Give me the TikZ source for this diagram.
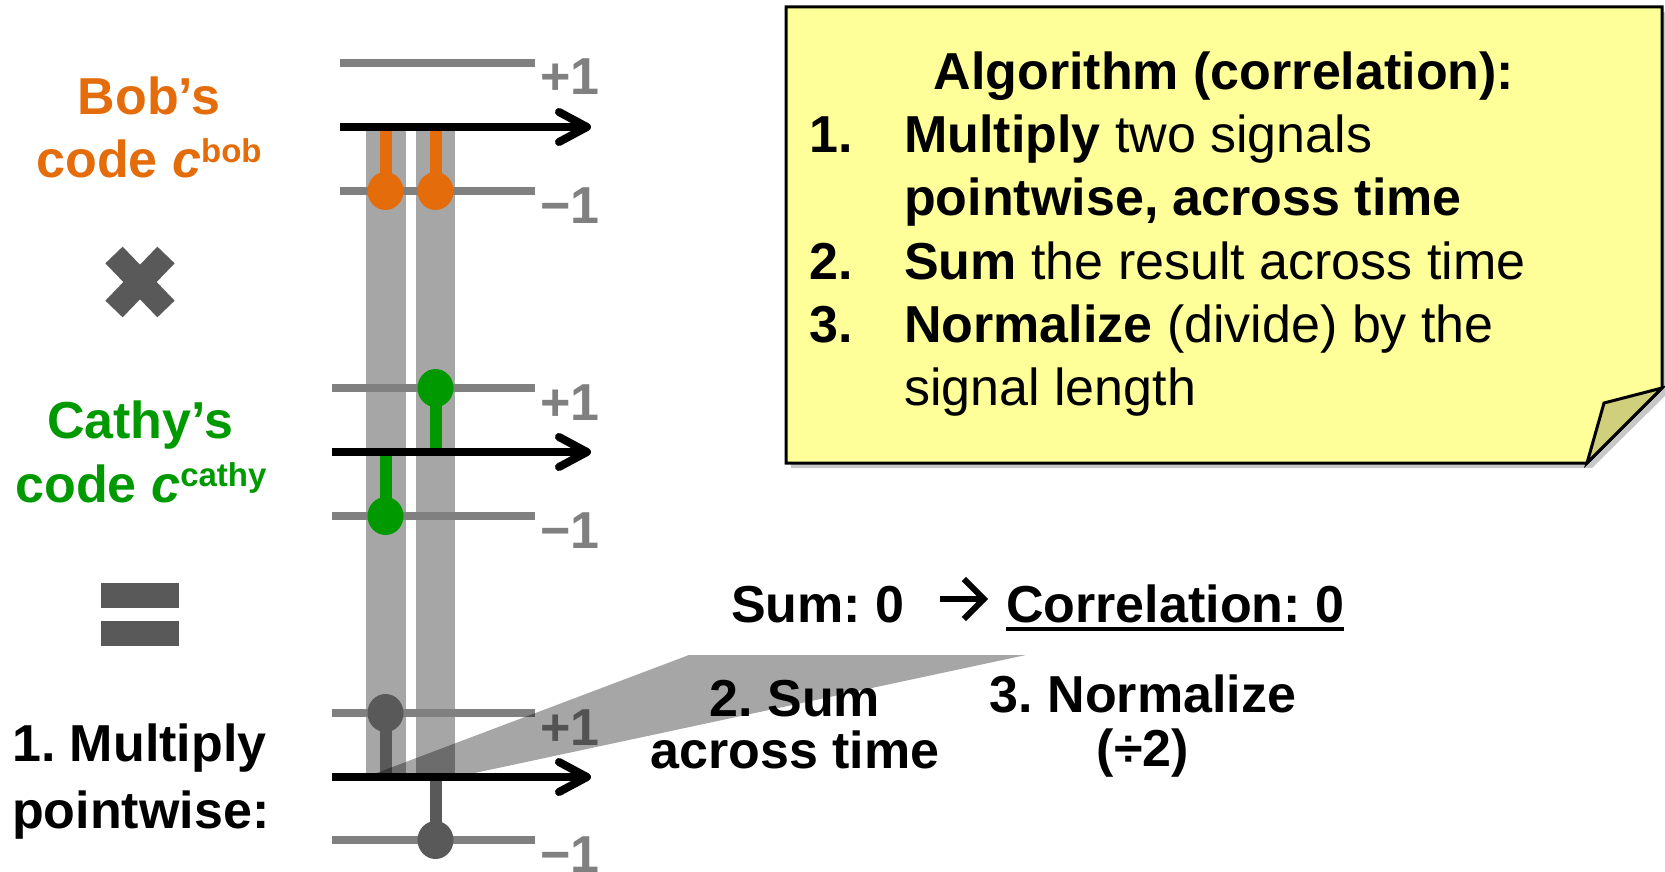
\documentclass[tikz,border=0pt]{standalone}
\usepackage{fontspec}
\setmainfont{Liberation Sans}
\usetikzlibrary{arrows.meta,shapes.geometric}
\definecolor{bobc}{HTML}{E46C0A}
\definecolor{cathyc}{HTML}{009900}
\definecolor{lvl}{HTML}{808080}
\definecolor{dk}{HTML}{595959}
\definecolor{note}{HTML}{FFFF99}
\definecolor{foldc}{HTML}{CFCF7C}
\tikzset{
  big/.style={font=\fontsize{52}{60}\selectfont\bfseries, inner sep=0pt},
  reg/.style={font=\fontsize{52}{60}\selectfont, inner sep=0pt},
  lbl/.style={font=\fontsize{52}{60}\selectfont\bfseries, text=lvl, inner sep=0pt, anchor=base west},
  lvlline/.style={draw=lvl, line width=8pt},
  timeaxis/.style={draw=black, line width=8pt, -{Straight Barb[length=28pt,width=30pt,round]}},
  thenarrow/.style={draw=black, line width=6pt, -{Straight Barb[length=20pt,width=40pt]}},
  stem/.style={line width=12pt},
  dot/.style={ellipse, minimum width=36pt, minimum height=38pt, inner sep=0pt},
  bar/.style={fill=black, fill opacity=0.35},
}
\begin{document}
\frenchspacing
\begin{tikzpicture}[x=1pt,y=-1pt]
\useasboundingbox (0,0) rectangle (1665,872);

% time-slot bars
\fill[bar] (366,127) rectangle (406,777);
\fill[bar] (416,127) rectangle (455,777);

% ---------- Bob ----------
\draw[lvlline] (340,63) -- (535,63);
\draw[lvlline] (340,191) -- (535,191);
\draw[stem, bobc] (385.5,127) -- (385.5,191);
\draw[stem, bobc] (435.5,127) -- (435.5,191);
\node[dot, fill=bobc] (b1) at (385.5,191) {};
\node[dot, fill=bobc] (b2) at (435.5,191) {};
\draw[timeaxis] (340,127) -- (591,127);
\node[lbl] (bp) at (540,95) {+1};
\node[lbl] (bm) at (540,223) {\char"2212 1};

% ---------- Cathy ----------
\draw[lvlline] (332,388) -- (535,388);
\draw[lvlline] (332,516) -- (535,516);
\draw[stem, cathyc] (385.5,452) -- (385.5,516);
\draw[stem, cathyc] (435.5,452) -- (435.5,388);
\node[dot, fill=cathyc] (c1) at (385.5,516) {};
\node[dot, fill=cathyc] (c2) at (435.5,388) {};
\draw[timeaxis] (332,452) -- (591,452);
\node[lbl] (cp) at (540,420) {+1};
\node[lbl] (cm) at (540,548) {\char"2212 1};

% ---------- Product ----------
\draw[lvlline] (332,713) -- (535,713);
\draw[lvlline] (332,840) -- (535,840);
\draw[stem, dk] (385.5,777) -- (385.5,713);
\draw[stem, dk] (435.5,777) -- (435.5,840);
\node[dot, fill=dk] (p1) at (385.5,713) {};
\node[dot, fill=dk] (p2) at (435.5,840) {};
\draw[timeaxis] (332,777) -- (591,777);
\node[lbl] (pp) at (540,745) {+1};
\node[lbl] (pm) at (540,872) {\char"2212 1};

% summing wedge
\fill[bar] (366,777) -- (456,777) -- (1026,655) -- (689,655) -- cycle;

% multiply and equals signs
\draw[dk, line width=24pt] (114,255) -- (166,309);
\draw[dk, line width=24pt] (166,255) -- (114,309);
\fill[dk] (101,583) rectangle (179,608);
\fill[dk] (101,621) rectangle (179,646);

% left labels
\node[big, text=bobc, anchor=base] (bobA) at (149,115) {Bob’s};
\node[big, text=bobc, anchor=base] (bobB) at (149,178) {code \textit{c}\raisebox{16pt}{\fontsize{33}{33}\selectfont bob}};
\node[big, text=cathyc, anchor=base] (cathyA) at (140,438) {Cathy’s};
\node[big, text=cathyc, anchor=base] (cathyB) at (141,502) {code \textit{c}\raisebox{16pt}{\fontsize{33}{33}\selectfont cathy}};
\node[big, anchor=base west] (mulA) at (12,761) {1. Multiply};
\node[big, anchor=base west] (mulB) at (12,828) {pointwise:};

% result row
\node[big, anchor=base west] (sum) at (731,622) {Sum: 0};
\node[big, anchor=base west] (corr) at (1006,622) {Correlation: 0};
\draw[thenarrow] ([xshift=35pt,yshift=23pt]sum.base east) -- ([xshift=-18pt,yshift=23pt]corr.base west);
\draw[line width=3.5pt] ([yshift=-7pt]corr.base west) -- ([yshift=-7pt]corr.base east);
\node[big, anchor=base] (s2a) at (795,716) {2. Sum};
\node[big, anchor=base] (s2b) at (795,768) {across time};
\node[big, anchor=base] (s3a) at (1143,712) {3. Normalize};
\node[big, anchor=base] (s3b) at (1143,766) {(÷2)};

% sticky note
\fill[black, opacity=0.22] (791,12) -- (1668,12) -- (1668,393) -- (1592,468) -- (791,468) -- cycle;
\filldraw[fill=note, draw=black, line width=3pt, line join=miter]
  (786,7) -- (1662,7) -- (1662,388) -- (1587,463) -- (786,463) -- cycle;
\filldraw[fill=foldc, draw=black, line width=3pt, line join=miter]
  (1587,463) -- (1604,403) -- (1662,388) -- cycle;

\node[big, anchor=base] (hdr) at (1224,90) {Algorithm (correlation):};
\node[big, anchor=base west] (n1) at (809,153) {1.};
\node[reg, anchor=base west] (t1) at (904,153) {\textbf{Multiply} two signals};
\node[big, anchor=base west] (t1b) at (904,215) {pointwise, across time};
\node[big, anchor=base west] (n2) at (809,279) {2.};
\node[reg, anchor=base west] (t2) at (904,279) {\textbf{Sum} the result across time};
\node[big, anchor=base west] (n3) at (809,342) {3.};
\node[reg, anchor=base west] (t3) at (904,342) {\textbf{Normalize} (divide) by the};
\node[reg, anchor=base west] (t3b) at (904,405) {signal length};
\end{tikzpicture}
\end{document}
